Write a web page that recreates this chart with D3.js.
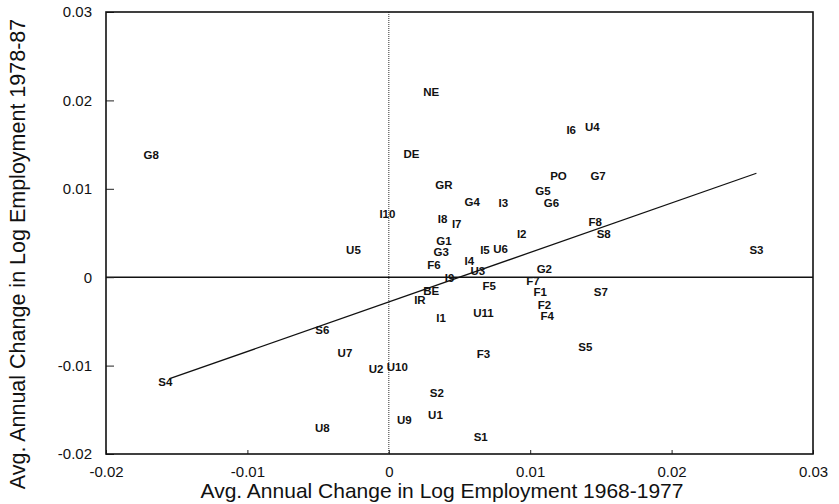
<!DOCTYPE html>
<html>
<head>
<meta charset="utf-8">
<script src="https://cdn.jsdelivr.net/npm/d3@7"></script>
<style>
  body { margin: 0; background: #fff; }
  svg { display: block; font-family: Arial, "Liberation Sans", sans-serif; }
</style>
</head>
<body>
<svg id="chart" width="839" height="504"></svg>
<script>
// Region codes and their average annual changes (in log employment)
const regionLabels = [
    'NE', 'I6', 'U4', 'DE', 'G8', 'PO', 'G7', 'GR', 'G4', 'I3',
    'G5', 'G6', 'I10', 'I8', 'I7', 'F8', 'S8', 'I2', 'G1', 'G3',
    'U5', 'I5', 'U6', 'S3', 'F6', 'I4', 'U3', 'G2', 'I9', 'F7',
    'F5', 'F1', 'S7', 'IR', 'BE', 'F2', 'U11', 'F4', 'I1', 'S6',
    'S5', 'F3', 'U7', 'U2', 'U10', 'S4', 'S2', 'U1', 'U9', 'U8', 'S1'
];
const change6877 = [
    0.0030, 0.0129, 0.0144, 0.0016, -0.0168, 0.0120, 0.0148, 0.0039, 0.0059, 0.0081,
    0.0109, 0.0115, -0.0001, 0.0038, 0.0048, 0.0146, 0.0152, 0.0094, 0.0039, 0.0037,
    -0.0025, 0.0068, 0.0079, 0.0260, 0.0032, 0.0057, 0.0063, 0.0110, 0.0043, 0.0102,
    0.0071, 0.0107, 0.0150, 0.0022, 0.0030, 0.0110, 0.0067, 0.0112, 0.0037, -0.0047,
    0.0139, 0.0067, -0.0031, -0.0009, 0.0006, -0.0158, 0.0034, 0.0033, 0.0011, -0.0047, 0.0065
];
const change7887 = [
    0.0209, 0.0166, 0.0170, 0.0139, 0.0138, 0.0114, 0.0115, 0.0104, 0.0085, 0.0084,
    0.0097, 0.0084, 0.0071, 0.0066, 0.0060, 0.0063, 0.0049, 0.0049, 0.0041, 0.0029,
    0.0031, 0.0031, 0.0032, 0.0031, 0.0014, 0.0018, 0.0007, 0.0009, -0.0001, -0.0004,
    -0.0010, -0.0017, -0.0017, -0.0026, -0.0016, -0.0031, -0.0040, -0.0044, -0.0046, -0.0060,
    -0.0079, -0.0087, -0.0086, -0.0104, -0.0102, -0.0118, -0.0131, -0.0156, -0.0161, -0.0171, -0.0181
];

// Fitted line: y = intercept + slope * x over the data range
const fitIntercept = -0.0028;
const fitSlope = 0.56;
const fitRange = [-0.0155, 0.026];

const xTicks = [-0.02, -0.01, 0, 0.01, 0.02, 0.03];
const yTicks = [-0.02, -0.01, 0, 0.01, 0.02, 0.03];
const xTickLabels = ['-0.02', '-0.01', '0', '0.01', '0.02', '0.03'];
const yTickLabels = ['-0.02', '-0.01', '0', '0.01', '0.02', '0.03'];

const xTitle = 'Avg. Annual Change in Log Employment 1968-1977';
const yTitle = 'Avg. Annual Change in Log Employment 1978-87';

const margin = { top: 12, right: 26, bottom: 50, left: 106 };
const width = 839, height = 504;
const plotW = width - margin.left - margin.right;
const plotH = height - margin.top - margin.bottom;

const svg = d3.select('#chart');
const g = svg.append('g')
    .attr('transform', `translate(${margin.left},${margin.top})`);

const x = d3.scaleLinear().domain([-0.02, 0.03]).range([0, plotW]);
const y = d3.scaleLinear().domain([-0.02, 0.03]).range([plotH, 0]);

// Zero reference lines
g.append('line')
    .attr('x1', x(0)).attr('x2', x(0))
    .attr('y1', 0).attr('y2', plotH)
    .attr('stroke', '#444')
    .attr('stroke-width', 1.1)
    .attr('stroke-dasharray', '1,1');

g.append('line')
    .attr('x1', 0).attr('x2', plotW)
    .attr('y1', y(0)).attr('y2', y(0))
    .attr('stroke', '#111')
    .attr('stroke-width', 1.6);

// Fitted line
const fitData = fitRange.map(v => ({ x: v, y: fitIntercept + fitSlope * v }));
g.append('path')
    .datum(fitData)
    .attr('d', d3.line().x(d => x(d.x)).y(d => y(d.y)))
    .attr('fill', 'none')
    .attr('stroke', '#111')
    .attr('stroke-width', 1.3);

// Axes (ticks point inward)
const xAxis = g.append('g')
    .attr('transform', `translate(0,${plotH})`)
    .call(d3.axisBottom(x)
        .tickValues(xTicks)
        .tickSizeInner(-4)
        .tickSizeOuter(0)
        .tickPadding(12)
        .tickFormat((d, i) => xTickLabels[i]));

const yAxis = g.append('g')
    .call(d3.axisLeft(y)
        .tickValues(yTicks)
        .tickSizeInner(-8)
        .tickSizeOuter(0)
        .tickPadding(14)
        .tickFormat((d, i) => yTickLabels[i]));

[xAxis, yAxis].forEach(ax => {
    ax.attr('font-size', null).attr('font-family', null);
    ax.select('.domain').remove();
    ax.selectAll('text')
        .style('font-size', '15px')
        .attr('fill', '#111');
    ax.selectAll('line').attr('stroke', '#222');
});

// Frame
g.append('rect')
    .attr('width', plotW)
    .attr('height', plotH)
    .attr('fill', 'none')
    .attr('stroke', '#111')
    .attr('stroke-width', 1.6);

// Region labels as the scatter marks
const points = regionLabels.map((name, i) => ({
    name, x: change6877[i], y: change7887[i]
}));

g.selectAll('.region')
    .data(points)
    .enter()
    .append('text')
    .attr('class', 'region')
    .attr('x', d => x(d.x))
    .attr('y', d => y(d.y))
    .attr('text-anchor', 'middle')
    .attr('dominant-baseline', 'central')
    .attr('font-size', 11.5)
    .attr('font-weight', 600)
    .attr('fill', '#111')
    .text(d => d.name);

// Axis titles
svg.append('text')
    .attr('x', 442)
    .attr('y', 498)
    .attr('text-anchor', 'middle')
    .attr('font-size', 21)
    .attr('fill', '#111')
    .text(xTitle);

svg.append('text')
    .attr('transform', 'translate(25,254) rotate(-90)')
    .attr('text-anchor', 'middle')
    .attr('font-size', 21.5)
    .attr('fill', '#111')
    .text(yTitle);
</script>
</body>
</html>
